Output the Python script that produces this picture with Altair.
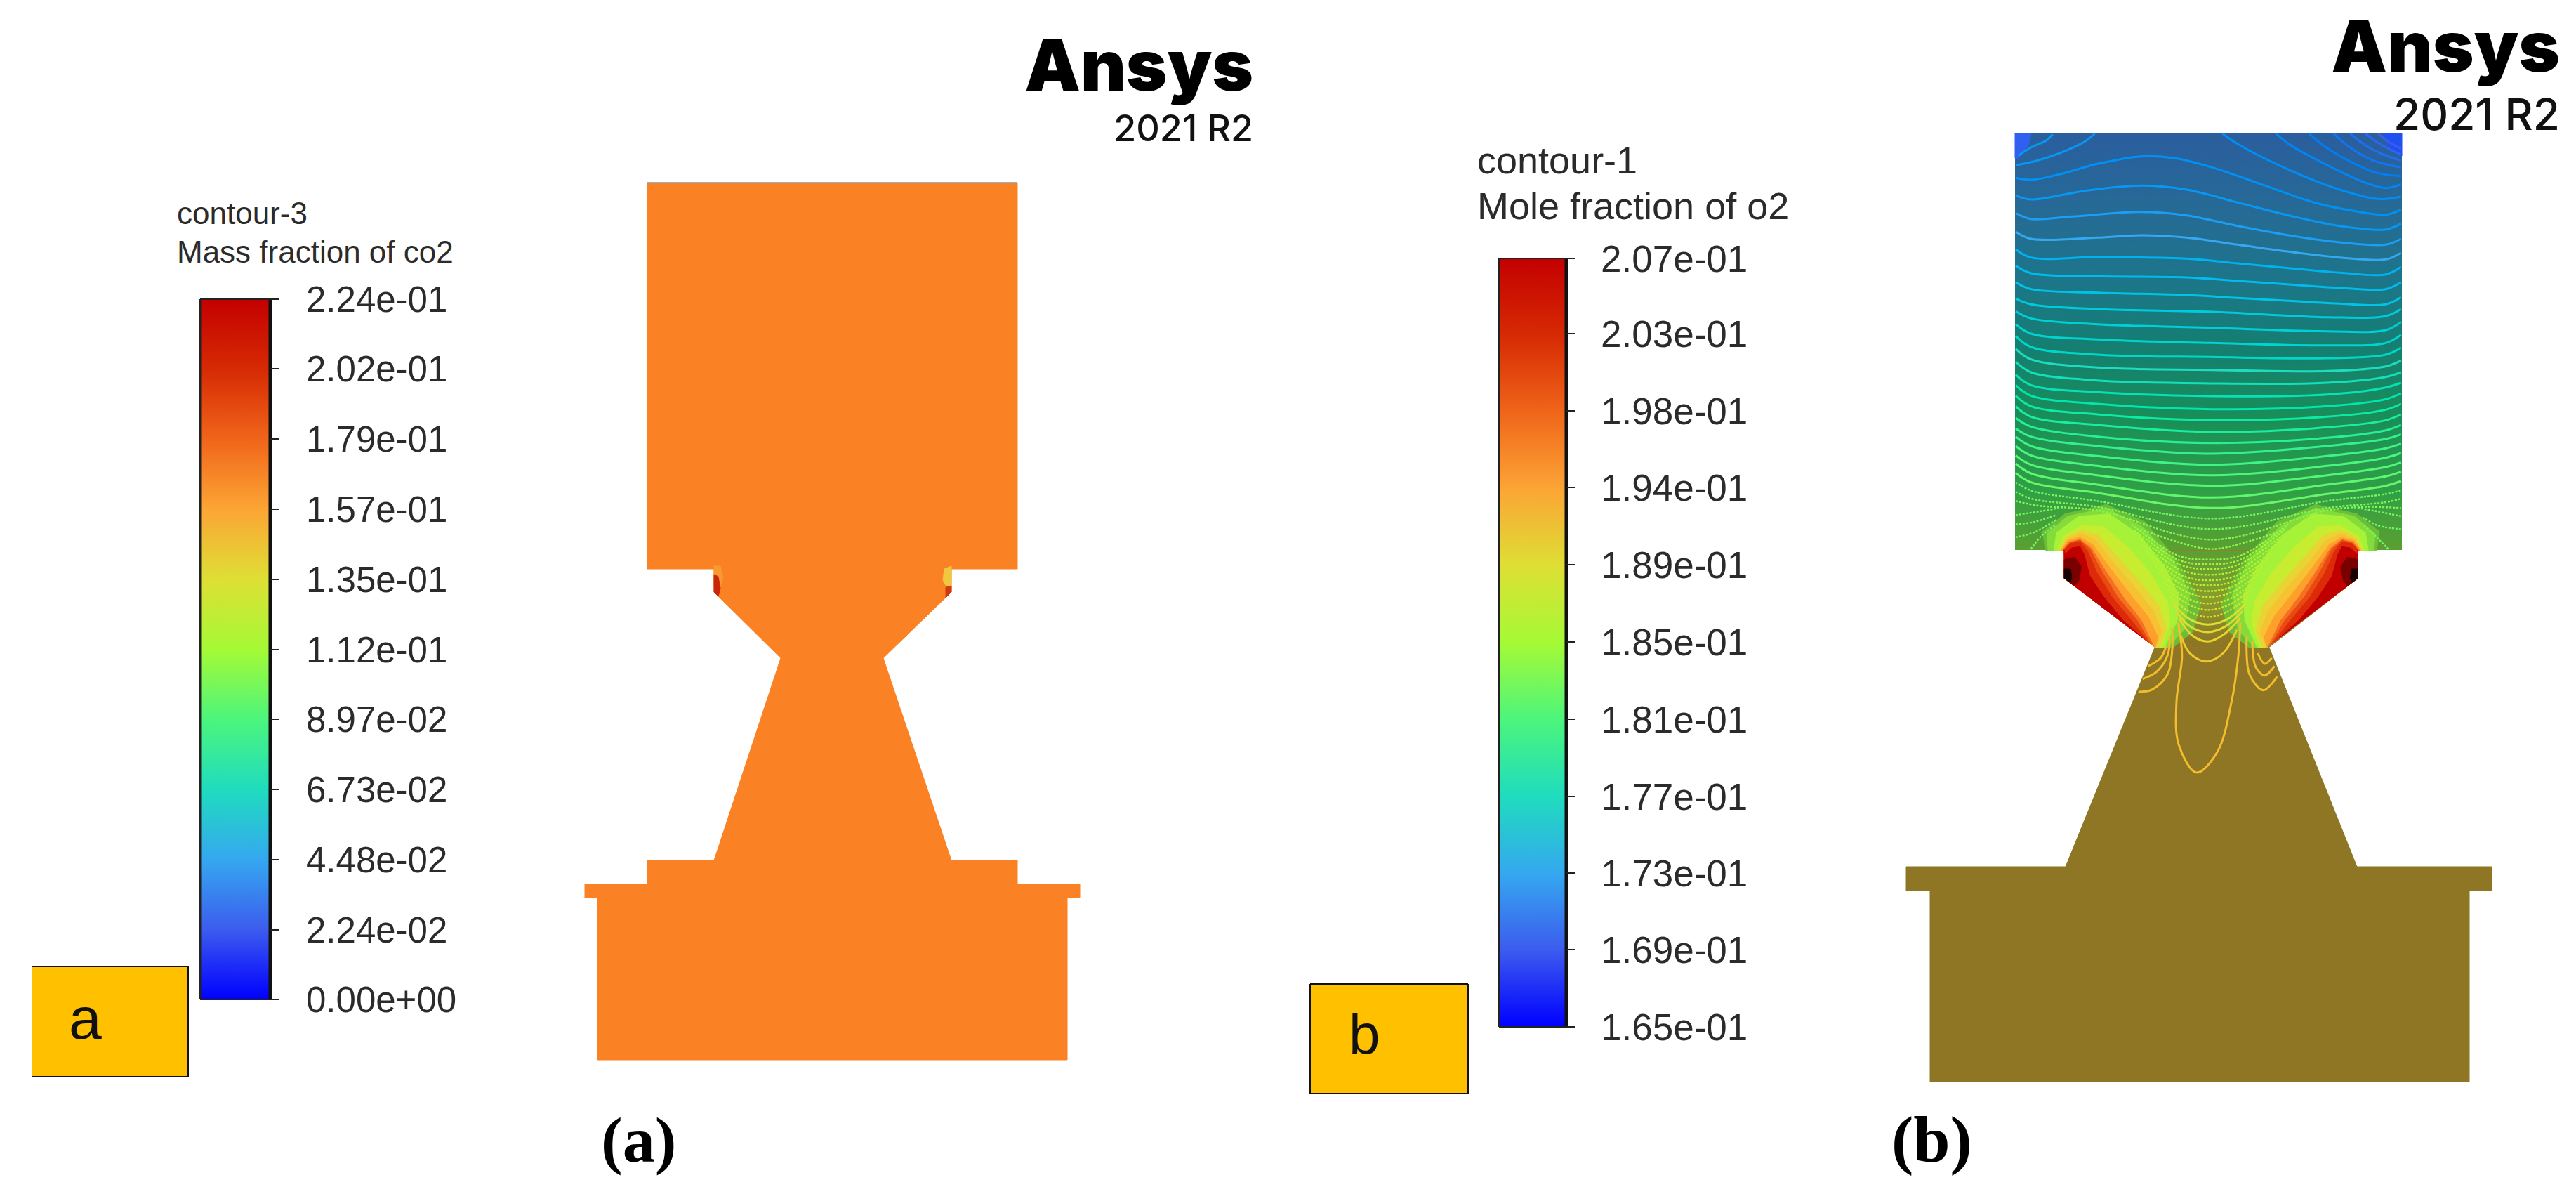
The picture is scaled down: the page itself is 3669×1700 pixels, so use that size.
import altair as alt
import pandas as pd

# ---------- colour bars ----------
BAR_A_LABELS = ["2.24e-01","2.02e-01","1.79e-01","1.57e-01","1.35e-01","1.12e-01","8.97e-02","6.73e-02","4.48e-02","2.24e-02","0.00e+00"]
BAR_A_TICKS = [426,525,625,725,825,925,1024,1124,1224,1324,1423]
BAR_B_LABELS = ["2.07e-01","2.03e-01","1.98e-01","1.94e-01","1.89e-01","1.85e-01","1.81e-01","1.77e-01","1.73e-01","1.69e-01","1.65e-01"]
BAR_B_TICKS = [368,475,585,694,804,914,1024,1134,1243,1352,1462]
RAINBOW = ["#C40000","#D62A04","#F0651A","#FCA535","#DEDF35","#A5FA35","#4CF57C","#1FDCBE","#35A8F0","#3C5CEE","#0000FF"]
FRACTIONS = [1.0,0.9,0.8,0.7,0.6,0.5,0.4,0.3,0.2,0.1,0.0]

# ---------- silhouettes ----------
SHAPE_A = [(922,260),(1449,260),(1449,810),(1355,810),(1355,843),(1258,937),(1355,1225),(1449,1225),(1449,1259),
           (1538,1259),(1538,1278),(1520,1278),(1520,1509),(851,1509),(851,1278),(833,1278),(833,1259),(922,1259),
           (922,1225),(1017,1225),(1112,937),(1017,843),(1017,810),(922,810)]
SHAPE_B_LOWER = [(3069,922),(2942,1234),(2715,1234),(2715,1268),(2749,1268),(2749,1540),(3517,1540),(3517,1268),
                 (3549,1268),(3549,1234),(3357,1234),(3232,922)]
HOT_A = [
    ([(1017,806),(1026,806),(1030,822),(1026,835),(1017,835)], "#F79A30"),
    ([(1017,818),(1023,821),(1026,838),(1023,849),(1017,843)], "#C8280A"),
    ([(1355,806),(1345,810),(1343,826),(1348,835),(1355,835)], "#F0C840"),
    ([(1355,834),(1347,836),(1347,851),(1355,843)], "#D03A10"),
]
ORANGE = "#FB8125"
OLIVE = "#8E7624"
BOX_B_Y = (190, 783)
BOX_B_X = (2870, 3421)
BOX_B_STOPS = [("#2A5E9E",0.0),("#266A96",0.18),("#1C7689",0.36),("#157F70",0.52),("#198F58",0.69),("#2FA045",0.86),("#5C9F30",1.0)]

# crop scales used while reading the contours: (x0, y0, sx, sy)
C8 = (2860,185,2.751,3.0)
C9 = (2860,420,2.751,3.0)
C10 = (2860,610,2.751,3.0)
C6 = (2850,700,2.529,3.0)

# band outlines for the left lobe, crop C6; outer -> inner
WALL = [(228,370),(228,250)]
BANDS = [
 ("#6CBE38",[(160,250),(150,170),(230,95),(380,55),(520,130),(640,300),(720,480),(690,600),(620,665),(556,665)],True),
 ("#84DC3A",[(170,250),(165,180),(240,105),(380,70),(510,150),(620,290),(680,440),(660,590),(600,665),(556,665)],True),
 ("#A6F238",[(190,250),(200,175),(280,105),(390,95),(500,185),(590,320),(640,440),(635,550),(590,665),(556,665)],True),
 ("#C8EC30",[(205,250),(225,190),(290,145),(370,150),(460,240),(540,350),(600,470),(610,560),(580,665),(556,665)],True),
 ("#E8D535",[(212,250),(235,195),(290,165),(350,185),(425,285),(500,385),(570,490),(595,590),(570,665),(556,665)],True),
 ("#F7C232",[(215,250),(238,203),(288,180),(340,205),(410,310),(490,420),(550,510),(580,600),(556,665)],True),
 ("#FFA02C",[(218,250),(240,210),(285,195),(330,225),(395,330),(470,445),(530,535),(565,620),(556,665)],True),
 ("#F57020",[(222,250),(245,215),(285,205),(325,240),(380,345),(440,450),(505,550),(550,660)],True),
 ("#E84A12",[(225,250),(248,218),(285,208),(320,245),(365,345),(420,450),(490,550),(540,651)],True),
 ("#DD2A08",[(226,250),(250,222),(285,215),(312,255),(345,345),(400,450),(470,550),(530,642)],True),
 ("#C00000",[(228,270),(255,240),(285,235),(300,270),(320,360),(370,450),(440,550),(510,624)],True),
 ("#7A0000",[(228,290),(265,280),(290,320),(280,380),(265,403),(228,370)],False),
 ("#180000",[(228,330),(250,330),(255,365),(250,388),(228,370)],False),
]
NECK = [(228,250),(228,370),(555,665),(965,665),(1285,370),(1285,250)]
CORNERS = [([(2870,190),(2893,190),(2890,205),(2875,225),(2870,225)],"#3060F0"),
           ([(3395,190),(3421,190),(3421,222),(3405,215)],"#2050F0")]

# contour lines: (level, crop, points)
LINES = [
 (0.175,C8,[(40,110),(90,75),(150,45),(175,18)]),
 (0.175,C8,[(30,150),(100,135),(200,100),(300,50),(340,15)]),
 (0.10,C8,[(1450,15),(1490,50),(1540,80)]),
 (0.11,C8,[(1400,15),(1450,55),(1500,85),(1540,105)]),
 (0.12,C8,[(1340,15),(1400,65),(1470,105),(1540,130)]),
 (0.13,C8,[(1275,15),(1340,75),(1430,130),(1540,160)]),
 (0.14,C8,[(1180,15),(1240,70),(1350,140),(1450,185),(1540,197)]),
 (0.15,C8,[(1050,15),(1100,60),(1250,150),(1400,225),(1480,248),(1540,232)]),
 (0.16,C8,[(840,15),(900,60),(1100,170),(1300,255),(1450,295),(1540,285)]),
 (0.165,C8,[(30,205),(90,213),(200,190),(350,145),(520,113),(650,120),(800,160),(1000,235),(1200,310),(1350,345),(1480,362),(1540,340)]),
 (0.175,C8,[(30,280),(90,297),(300,260),(520,238),(700,255),(900,310),(1100,365),(1300,410),(1480,425),(1540,400)]),
 (0.185,C8,[(30,355),(90,380),(250,370),(520,350),(700,365),(900,410),(1100,450),(1300,480),(1480,490),(1540,465)]),
 (0.20,C8,[(30,435),(90,465),(350,460),(520,450),(700,460),(900,490),(1100,520),(1300,545),(1480,553),(1540,525)]),
 (0.215,C8,[(30,510),(90,545),(350,543),(700,550),(900,570),(1100,590),(1300,610),(1480,617),(1540,585)]),
 (0.23,C8,[(30,580),(90,612),(350,625),(700,630),(900,645),(1100,660),(1300,675),(1480,680),(1540,650)]),
 (0.245,C8,[(30,650),(90,680),(350,695),(700,705),(900,718),(1100,730),(1300,742),(1480,745),(1540,715)]),
 (0.26,C9,[(30,15),(90,40),(350,60),(800,72),(1250,95),(1480,90),(1540,60)]),
 (0.27,C9,[(30,70),(90,100),(350,125),(800,140),(1250,155),(1480,150),(1540,115)]),
 (0.28,C9,[(30,125),(90,165),(350,190),(800,205),(1250,215),(1480,205),(1540,170)]),
 (0.29,C9,[(30,175),(90,222),(350,255),(800,265),(1250,270),(1480,255),(1540,225)]),
 (0.30,C9,[(30,230),(90,275),(350,310),(800,320),(1250,325),(1480,305),(1540,280)]),
 (0.31,C9,[(30,285),(90,330),(350,365),(800,378),(1250,375),(1480,350),(1540,330)]),
 (0.32,C9,[(30,340),(90,385),(350,415),(800,432),(1250,425),(1480,395),(1540,375)]),
 (0.335,C9,[(30,385),(90,430),(350,465),(800,488),(1250,475),(1480,445),(1540,420)]),
 (0.35,C9,[(30,430),(90,475),(350,510),(800,535),(1250,520),(1480,490),(1540,465)]),
 (0.36,C9,[(30,475),(90,520),(350,555),(800,585),(1250,565),(1480,535),(1540,510)]),
 (0.37,C10,[(30,-45),(90,-8),(350,35),(800,62),(1250,40),(1480,8),(1540,-15)]),
 (0.38,C10,[(30,0),(90,35),(350,75),(800,108),(1250,75),(1480,45),(1540,25)]),
 (0.39,C10,[(30,35),(90,75),(350,118),(800,155),(1250,118),(1480,85),(1540,65)]),
 (0.40,C10,[(30,75),(90,115),(350,160),(800,200),(1250,160),(1480,125),(1540,105)]),
 (0.41,C10,[(30,115),(90,155),(350,200),(800,245),(1250,200),(1480,165),(1540,145)]),
 (0.42,C10,[(30,150),(90,192),(350,240),(800,295),(1250,240),(1480,205),(1540,185)]),
 (0.43,C10,[(30,190),(90,230),(350,275),(800,340),(1250,280),(1480,245),(1540,225)]),
 (0.44,C10,[(30,230),(90,265),(350,310),(800,385),(1250,310),(1480,280),(1540,265)]),
 (0.45,C10,[(30,270),(90,300),(350,335),(800,430),(1250,340),(1480,315),(1540,300)]),
 (0.46,C10,[(30,310),(120,330),(350,350),(800,475),(1250,350),(1400,335),(1540,340)]),
 (0.47,C10,[(520,430),(650,480),(800,515),(950,480),(1090,430)]),
 (0.44,C10,[(30,370),(120,355),(200,340)]),
 (0.44,C10,[(30,410),(100,400),(190,370)]),
 (0.44,C10,[(30,465),(100,445),(190,390)]),
 (0.44,C10,[(90,515),(130,460),(190,410)]),
 (0.44,C10,[(1540,375),(1450,355),(1350,335)]),
 (0.44,C10,[(1540,430),(1450,415),(1390,380)]),
 (0.44,C10,[(1490,515),(1440,460),(1390,410)]),
 (0.48,C6,[(470,140),(635,272),(745,290),(865,272),(1035,140)]),
 (0.49,C6,[(480,165),(640,292),(745,310),(860,292),(1020,165)]),
 (0.50,C6,[(495,195),(645,312),(745,330),(855,312),(1005,195)]),
 (0.51,C6,[(510,225),(650,335),(745,355),(850,335),(990,225)]),
 (0.52,C6,[(525,255),(655,360),(745,378),(845,360),(975,255)]),
 (0.53,C6,[(540,285),(660,382),(745,400),(840,382),(960,285)]),
 (0.54,C6,[(555,315),(665,405),(745,425),(835,405),(945,315)]),
 (0.55,C6,[(570,350),(670,430),(745,450),(830,430),(930,350)]),
 (0.56,C6,[(585,385),(675,458),(745,478),(825,458),(915,385)]),
 (0.57,C6,[(600,420),(680,484),(745,505),(820,484),(900,420)]),
 (0.58,C6,[(610,450),(680,513),(745,535),(815,513),(890,450)]),
 (0.60,C6,[(620,480),(680,545),(745,568),(815,545),(880,480)]),
 (0.61,C6,[(630,510),(680,575),(745,600),(810,575),(870,510)]),
 (0.62,C6,[(640,540),(690,615),(745,640),(800,612),(862,540)]),
 (0.64,C6,[(640,590),(680,690),(740,725),(800,690),(850,590)]),
 (0.66,C6,[(638,560),(652,700),(632,900),(640,1080),(705,1200),(780,1110),(830,900),(855,700),(862,560)]),
 (0.66,C6,[(495,855),(545,845),(600,780),(618,650),(615,580)]),
 (0.66,C6,[(510,800),(560,770),(600,700),(608,620)]),
 (0.66,C6,[(530,745),(575,710),(595,660)]),
 (0.66,C6,[(885,620),(895,780),(945,848),(995,790)]),
 (0.66,C6,[(905,640),(918,750),(950,785),(985,745)]),
 (0.66,C6,[(925,690),(950,735),(975,710)]),
]

TEXTS = [
 ("contour-3",252,319,44,"Liberation Sans","normal","#2b2b2b","left"),
 ("Mass fraction of co2",252,374,44,"Liberation Sans","normal","#2b2b2b","left"),
 ("contour-1",2104,247,54,"Liberation Sans","normal","#2b2b2b","left"),
 ("Mole fraction of o2",2104,312,54,"Liberation Sans","normal","#2b2b2b","left"),
 ("a",98,1479,84,"Liberation Sans","normal","#111111","left"),
 ("b",1921,1500,80,"Liberation Sans","normal","#111111","left"),
 ("(a)",856,1654,92,"Liberation Serif","bold","#000000","left"),
 ("(b)",2694,1654,94,"Liberation Serif","bold","#000000","left"),
 ("Ansys",1785,129,100,"Inter",900,"#000000","right"),
 ("2021 R2",1785,201,52,"Inter",500,"#111111","right"),
 ("Ansys",3646,102,100,"Inter",900,"#000000","right"),
 ("2021 R2",3646,185,62,"Inter",500,"#111111","right"),
]

# ---------- helpers ----------
SX = alt.Scale(domain=[8,3661], nice=False, zero=False)
SY = alt.Scale(domain=[1692,8], nice=False, zero=False)
X = alt.X("x:Q", scale=SX, axis=None)
Y = alt.Y("y:Q", scale=SY, axis=None)
X2 = alt.X2("x2:Q")
Y2 = alt.Y2("y2:Q")

def to_px(crop, pts):
    x0, y0, sx, sy = crop
    return [(x0 + a / sx, y0 + b / sy) for a, b in pts]

def poly(pts, fill):
    closed = list(pts) + [pts[0]]
    df = pd.DataFrame({"x":[p[0] for p in closed], "y":[p[1] for p in closed], "i":list(range(len(closed)))})
    stroke = fill if isinstance(fill, str) else "#8E7624"
    return alt.Chart(df).mark_line(fill=fill, stroke=stroke, strokeWidth=1).encode(x=X, y=Y, order=alt.Order("i:Q"))

def rect(x, x2, y, y2, fill):
    df = pd.DataFrame({"x":[x],"x2":[x2],"y":[y],"y2":[y2]})
    return alt.Chart(df).mark_rect(fill=fill).encode(x=X, x2=X2, y=Y, y2=Y2)

def rule(x, x2, y, y2, color, w):
    df = pd.DataFrame({"x":[x],"x2":[x2],"y":[y],"y2":[y2]})
    return alt.Chart(df).mark_rule(color=color, strokeWidth=w).encode(x=X, x2=X2, y=Y, y2=Y2)

def vgrad(stops):
    return alt.Gradient(gradient="linear", x1=0, x2=0, y1=0, y2=1,
                        stops=[alt.GradientStop(color=c, offset=o) for c, o in stops])

def colorbar(x0, x1, tickx, labelx, ticks, labels, size):
    bar_stops = [(c, 1 - f) for c, f in zip(RAINBOW, FRACTIONS)]
    out = [rect(x0, x1, ticks[0], ticks[-1], vgrad(bar_stops))]
    out += [rule(x0, x0, ticks[0], ticks[-1], "#222222", 3),
            rule(x1, x1, ticks[0], ticks[-1], "#111111", 5),
            rule(x0, x1, ticks[0], ticks[0], "#222222", 2),
            rule(x0, x1, ticks[-1], ticks[-1], "#222222", 2)]
    for t in ticks:
        out.append(rule(x1, tickx, t, t, "#222222", 2))
    df = pd.DataFrame({"x":[labelx]*len(ticks), "y":[t + size*0.36 for t in ticks], "t":labels})
    out.append(alt.Chart(df).mark_text(align="left", baseline="alphabetic", font="Liberation Sans",
                                       fontSize=size, color="#2b2b2b").encode(x=X, y=Y, text="t:N"))
    return out

layers = []
# panel (a)
layers.append(poly(SHAPE_A, ORANGE))
layers.append(rule(922, 1449, 260, 260, "#8AB4D0", 2))
for pts, c in HOT_A:
    layers.append(poly(pts, c))
layers += colorbar(285, 385, 398, 436, BAR_A_TICKS, BAR_A_LABELS, 51)
layers.append(rect(46, 268, 1376, 1533, "#FFC000"))
layers += [rule(46,268,1376,1376,"#111111",2), rule(46,268,1533,1533,"#111111",2), rule(268,268,1376,1533,"#111111",2)]

# panel (b)
layers.append(poly(SHAPE_B_LOWER, OLIVE))
layers.append(poly(to_px(C6, NECK), vgrad([("#5A9F35",0.0),("#8A9C2C",0.5),("#8E7624",0.95),("#8E7624",1.0)])))
layers.append(rect(BOX_B_X[0], BOX_B_X[1], BOX_B_Y[0], BOX_B_Y[1], vgrad(BOX_B_STOPS)))
for pts, c in CORNERS:
    layers.append(poly(pts, c))
for mirror in (False, True):
    for color, curve, wall in BANDS:
        pts = curve + (WALL if wall else [])
        if mirror:
            pts = [(1513 - a, b) for a, b in pts]
        layers.append(poly(to_px(C6, pts), color))

rows = []
for k, (lvl, crop, pts) in enumerate(LINES):
    for i, (px, py) in enumerate(to_px(crop, pts)):
        rows.append({"x":px, "y":py, "i":i, "line":k, "frac":lvl, "level":1.65 + 0.42*lvl})
lines_df = pd.DataFrame(rows)
color_scale = alt.Scale(domain=[1.65 + 0.42*f for f in reversed(FRACTIONS)], range=list(reversed(RAINBOW)))
def contour_layer(df, width, dash=None):
    kw = {"strokeDash": dash} if dash else {}
    return alt.Chart(df).mark_line(strokeWidth=width, interpolate="catmull-rom", **kw).encode(
        x=X, y=Y, detail="line:N", order=alt.Order("i:Q"),
        color=alt.Color("level:Q", scale=color_scale, legend=None))
layers.append(contour_layer(lines_df[lines_df.frac <= 0.43], 3.0))
layers.append(contour_layer(lines_df[(lines_df.frac > 0.43) & (lines_df.frac < 0.60)], 2.4, [3, 2]))
layers.append(contour_layer(lines_df[lines_df.frac >= 0.60], 3.0))

layers += colorbar(2135, 2231, 2243, 2280, BAR_B_TICKS, BAR_B_LABELS, 53)
layers.append(rect(1866, 2091, 1401, 1557, "#FFC000"))
layers += [rule(1866,2091,1401,1401,"#111111",2), rule(1866,2091,1557,1557,"#111111",2),
           rule(1866,1866,1401,1557,"#111111",2), rule(2091,2091,1401,1557,"#111111",2)]

for t, x, y, size, font, weight, col, align in TEXTS:
    df = pd.DataFrame({"x":[x],"y":[y],"t":[t]})
    layers.append(alt.Chart(df).mark_text(align=align, baseline="alphabetic", font=font, fontSize=size,
                                          fontWeight=weight, color=col).encode(x=X, y=Y, text="t:N"))

chart = alt.layer(*layers).properties(width=3653, height=1684, padding=0, autosize=alt.AutoSizeParams(type="none")).configure_view(strokeWidth=0)
chart.save("out.html", embed_options={"renderer": "svg", "actions": False})
